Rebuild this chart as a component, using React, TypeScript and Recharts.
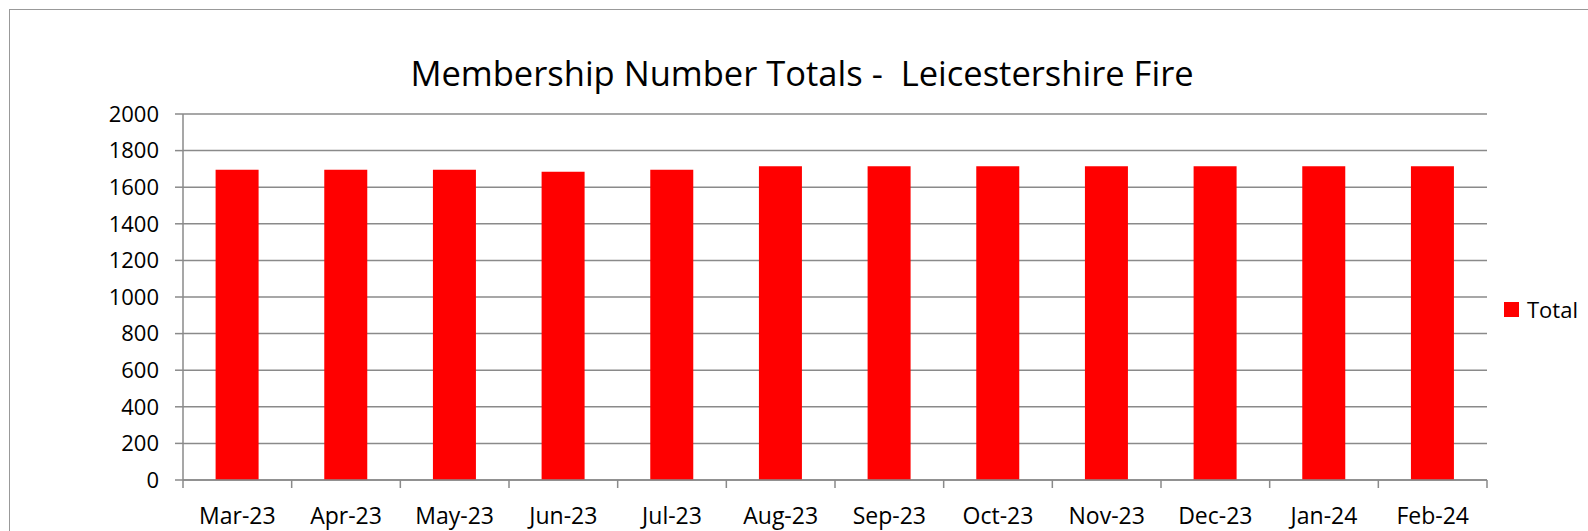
import React from 'react';
import { BarChart, Bar, XAxis, YAxis, CartesianGrid, Legend } from 'recharts';

const months = ['Mar-23', 'Apr-23', 'May-23', 'Jun-23', 'Jul-23', 'Aug-23', 'Sep-23', 'Oct-23', 'Nov-23', 'Dec-23', 'Jan-24', 'Feb-24'];
const totals = [1695, 1695, 1695, 1685, 1695, 1715, 1715, 1715, 1715, 1715, 1715, 1715];
const yTicks = [0, 200, 400, 600, 800, 1000, 1200, 1400, 1600, 1800, 2000];
const titleText = 'Membership Number Totals -  Leicestershire Fire';
const seriesName = 'Total';

const data = months.map((m, i) => ({ month: m, Total: totals[i] }));

const FONT = '"Open Sans", sans-serif';
const GRID = '#8a8a8a';

const XTick = (props: any) => {
  const { x, y, payload, index } = props;
  const half = payload && payload.offset ? payload.offset : 0;
  const last = index === months.length - 1;
  return (
    <g>
      <line x1={x - half} x2={x - half} y1={y - 8} y2={y} stroke={GRID} strokeWidth={1.5} />
      {last && <line x1={x + half} x2={x + half} y1={y - 8} y2={y} stroke={GRID} strokeWidth={1.5} />}
      <text x={x} y={y + 36} textAnchor="middle" fontFamily={FONT} fontSize={23} fill="#000">
        {payload.value}
      </text>
    </g>
  );
};

const LegendContent = () => (
  <div style={{ display: 'flex', alignItems: 'center', fontFamily: FONT, fontSize: 22, color: '#000' }}>
    <span style={{ display: 'inline-block', width: 15, height: 15, background: '#ff0000', marginRight: 8 }} />
    <span>{seriesName}</span>
  </div>
);

export default function App() {
  return (
    <div style={{ position: 'absolute', left: 0, top: 0, width: 1588, height: 531, background: '#fff', overflow: 'hidden' }}>
      <div style={{ position: 'absolute', left: 9, top: 9, width: 1579, height: 522, borderLeft: '1.5px solid #999', borderTop: '1.5px solid #999', boxSizing: 'border-box' }} />
      <div style={{ position: 'absolute', left: 0, top: 49, width: 1604, textAlign: 'center', fontFamily: FONT, fontSize: 34.5, color: '#000', whiteSpace: 'pre' }}>
        {titleText}
      </div>
      <div style={{ position: 'absolute', left: 0, top: 0 }}>
        <BarChart width={1588} height={531} data={data} margin={{ top: 114, right: 101, bottom: 0, left: 0 }} barCategoryGap="30%">
          <CartesianGrid vertical={false} stroke={GRID} strokeWidth={1.5} />
          <XAxis dataKey="month" height={51} axisLine={{ stroke: GRID, strokeWidth: 1.5 }} tickLine={false} tick={<XTick />} interval={0} />
          <YAxis width={183} domain={[0, 2000]} ticks={yTicks} interval={0} axisLine={{ stroke: GRID, strokeWidth: 1.5 }} tickLine={{ stroke: GRID, strokeWidth: 1.5 }} tickSize={8} tickMargin={16} tick={{ fontFamily: FONT, fontSize: 22, fill: '#000' }} />
          <Legend layout="horizontal" align="center" verticalAlign="middle" content={<LegendContent />} wrapperStyle={{ position: 'absolute', left: 1504, top: 294, width: 90 }} />
          <Bar dataKey="Total" name={seriesName} fill="#ff0000" isAnimationActive={false} />
        </BarChart>
      </div>
    </div>
  );
}
